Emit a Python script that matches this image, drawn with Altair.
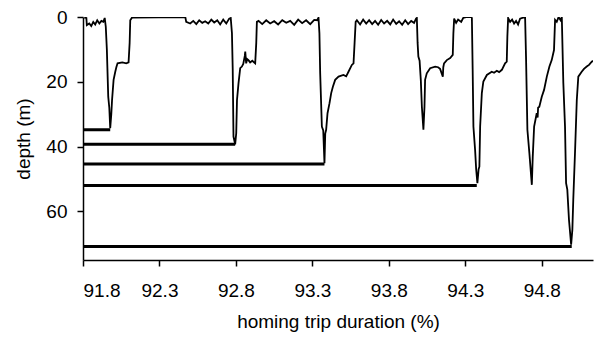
import altair as alt
import pandas as pd

# dive trace: homing trip duration (%) and depth (m)
trip_pct = [
    91.808, 91.822, 91.825, 91.841, 91.854, 91.867, 91.880, 91.893, 91.907, 91.920,
    91.933, 91.942, 91.949, 91.956, 91.965, 91.972, 91.978, 91.985, 91.990, 92.000,
    92.011, 92.018, 92.026, 92.057, 92.083, 92.098, 92.105, 92.109, 92.120, 92.469,
    92.475, 92.501, 92.521, 92.541, 92.560, 92.580, 92.599, 92.619, 92.639, 92.658,
    92.678, 92.697, 92.717, 92.737, 92.756, 92.766, 92.774, 92.779, 92.784, 92.795,
    92.802, 92.807, 92.817, 92.828, 92.839, 92.848, 92.858, 92.861, 92.867, 92.874,
    92.882, 92.893, 92.907, 92.926, 92.933, 92.937, 92.948, 92.972, 92.998, 93.024,
    93.050, 93.076, 93.103, 93.129, 93.155, 93.181, 93.207, 93.233, 93.259, 93.286,
    93.312, 93.331, 93.340, 93.346, 93.351, 93.362, 93.371, 93.379, 93.384, 93.390,
    93.399, 93.412, 93.423, 93.434, 93.449, 93.471, 93.503, 93.521, 93.536, 93.558,
    93.569, 93.576, 93.583, 93.591, 93.612, 93.632, 93.652, 93.671, 93.691, 93.710,
    93.730, 93.750, 93.769, 93.789, 93.809, 93.828, 93.848, 93.867, 93.887, 93.907,
    93.926, 93.946, 93.965, 93.978, 93.983, 93.988, 93.993, 94.001, 94.009, 94.016,
    94.026, 94.033, 94.037, 94.048, 94.070, 94.103, 94.122, 94.135, 94.153, 94.156,
    94.161, 94.179, 94.201, 94.218, 94.222, 94.227, 94.240, 94.253, 94.273, 94.286,
    94.312, 94.338, 94.343, 94.348, 94.353, 94.364, 94.371, 94.379, 94.387, 94.392,
    94.397, 94.408, 94.418, 94.441, 94.473, 94.488, 94.506, 94.521, 94.539, 94.560,
    94.571, 94.575, 94.580, 94.593, 94.606, 94.619, 94.632, 94.645, 94.658, 94.678,
    94.691, 94.697, 94.706, 94.719, 94.735, 94.741, 94.750, 94.767, 94.773, 94.776,
    94.784, 94.800, 94.815, 94.833, 94.850, 94.865, 94.880, 94.887, 94.898, 94.910,
    94.923, 94.931, 94.941, 94.952, 94.959, 94.967, 94.978, 94.992, 95.000, 95.006,
    95.018, 95.029, 95.039, 95.061, 95.076, 95.094, 95.109, 95.127, 95.135,
]
depth_m = [
    0.2, 0.3, 2.5, 2.0, 2.8, 1.5, 2.3, 1.0, 2.0, 1.2,
    1.5, 0.3, 3.0, 10.0, 24.6, 28.0, 34.3, 30.0, 25.6, 19.4,
    16.9, 15.5, 14.3, 14.0, 14.3, 14.0, 8.0, 1.0, 0.2, 0.0,
    1.5, 2.0, 1.2, 2.2, 1.0, 1.8, 1.3, 2.0, 0.8, 1.7,
    1.0, 2.3, 0.8, 2.0, 0.5, 0.3, 5.0, 16.0, 36.9, 39.3,
    35.9, 25.6, 20.4, 15.8, 15.3, 14.5, 12.0, 10.7, 14.3, 13.0,
    13.3, 14.0, 13.5, 14.3, 8.0, 1.5, 1.2, 2.2, 1.0, 2.0,
    1.3, 2.3, 1.0, 1.8, 1.2, 2.4, 0.8, 1.9, 1.0, 2.2,
    0.9, 1.0, 0.2, 5.0, 17.4, 33.8, 35.0, 45.1, 36.0, 34.8,
    29.7, 26.6, 23.5, 21.5, 19.4, 18.4, 17.9, 18.3, 16.9, 14.8,
    14.3, 8.0, 1.5, 1.0, 2.3, 0.8, 2.0, 1.0, 2.2, 1.2,
    2.4, 0.9, 2.0, 1.2, 2.3, 0.8, 2.1, 1.3, 2.4, 1.0,
    2.2, 1.2, 1.8, 0.5, 0.3, 8.0, 12.2, 13.5, 19.4, 27.7,
    34.8, 27.7, 19.4, 17.4, 15.8, 15.3, 15.5, 16.0, 18.4, 15.5,
    14.3, 13.3, 12.7, 11.7, 5.0, 0.5, 1.8, 0.8, 1.5, 0.3,
    0.0, 0.0, 0.3, 16.0, 33.8, 41.0, 47.0, 51.3, 47.0, 46.2,
    33.8, 23.5, 19.9, 17.9, 16.9, 17.2, 16.6, 17.0, 16.3, 14.3,
    13.8, 6.0, 0.3, 1.5, 0.8, 2.0, 1.2, 2.3, 0.5, 0.2,
    0.0, 12.2, 34.8, 42.0, 51.8, 43.1, 33.8, 29.7, 31.0, 28.0,
    27.7, 24.6, 22.5, 18.4, 15.3, 13.3, 10.2, 0.9, 1.5, 0.0,
    1.0, 0.0, 20.4, 33.8, 51.3, 53.3, 62.6, 70.3, 65.7, 56.4,
    41.0, 25.6, 18.4, 16.9, 16.0, 15.3, 14.8, 13.8, 13.5,
]

# maximum-depth markers for each deep dive
max_depths = [34.8, 39.3, 45.4, 52.0, 70.8]
max_depth_end = [91.978, 92.795, 93.379, 94.375, 94.996]

x_ticks = [91.8, 92.05, 92.3, 92.55, 92.8, 93.05, 93.3, 93.55, 93.8,
           94.05, 94.3, 94.55, 94.8, 95.05]
y_ticks = [0, 10, 20, 30, 40, 50, 60, 70]

trace = pd.DataFrame({"pct": trip_pct, "depth": depth_m, "i": range(len(trip_pct))})
marks = pd.DataFrame({"start": [91.8] * len(max_depths), "end": max_depth_end, "depth": max_depths})

xscale = alt.Scale(domain=[91.8, 95.135], nice=False, zero=False)
yscale = alt.Scale(domain=[0, 75], reverse=True, nice=False)

xaxis = alt.Axis(
    values=x_ticks,
    labelExpr="abs((datum.value - 91.8) / 0.5 - round((datum.value - 91.8) / 0.5)) < 0.01 ? format(datum.value, '.1f') : ''",
    title="homing trip duration (%)",
    grid=False,
)
yaxis = alt.Axis(
    values=y_ticks,
    labelExpr="datum.value % 20 == 0 ? datum.label : ''",
    title="depth (m)",
    grid=False,
)

line = alt.Chart(trace).mark_line(color="black", strokeWidth=1.8, clip=True).encode(
    x=alt.X("pct:Q", scale=xscale, axis=xaxis),
    y=alt.Y("depth:Q", scale=yscale, axis=yaxis),
    order="i:Q",
)

rules = alt.Chart(marks).mark_rule(color="black", strokeWidth=3).encode(
    x=alt.X("start:Q", scale=xscale),
    x2="end:Q",
    y=alt.Y("depth:Q", scale=yscale),
)

chart = (
    alt.layer(rules, line)
    .properties(
        width=510,
        height=243,
        autosize=alt.AutoSizeParams(type="none"),
        padding={"left": 83, "top": 17, "right": 1, "bottom": 78},
    )
    .configure_view(stroke=None)
    .configure_axis(
        domainColor="black",
        domainWidth=1.5,
        tickColor="black",
        tickWidth=1.5,
        tickSize=6,
        labelFont="Liberation Sans",
        labelFontSize=19,
        labelColor="black",
        titleFont="Liberation Sans",
        titleFontSize=19,
        titleFontWeight="normal",
        titleColor="black",
    )
    .configure_axisX(labelPadding=15, titlePadding=12)
    .configure_axisY(labelPadding=10, titlePadding=12)
)

chart.save("out.html", embed_options={"renderer": "svg", "actions": False})
